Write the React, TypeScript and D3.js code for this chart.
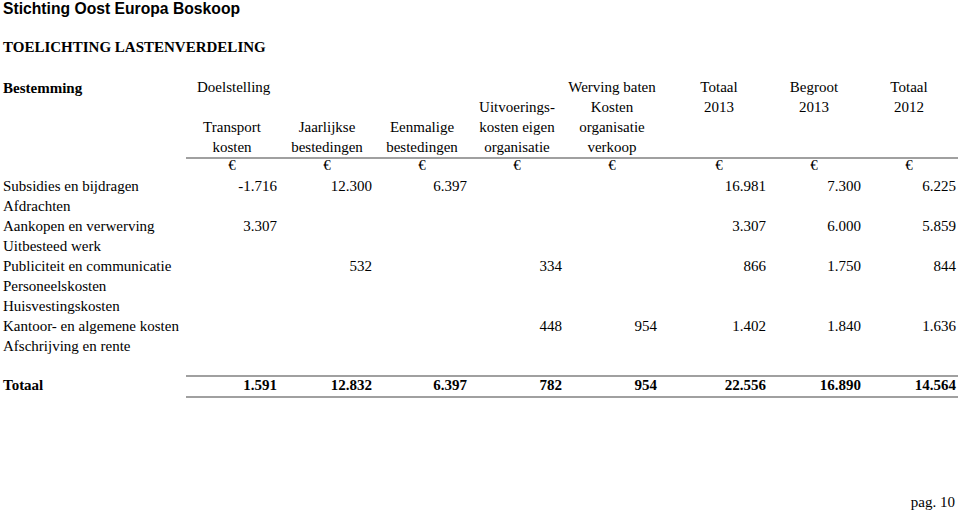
import React from "react";
import * as d3 from "d3";

const title = "Stichting Oost Europa Boskoop";
const subtitle = "TOELICHTING LASTENVERDELING";
const rowHeader = "Bestemming";
const groupHeader = "Doelstelling";
const pageLabel = "pag. 10";

const categories = [
  "Subsidies en bijdragen",
  "Afdrachten",
  "Aankopen en verwerving",
  "Uitbesteed werk",
  "Publiciteit en communicatie",
  "Personeelskosten",
  "Huisvestingskosten",
  "Kantoor- en algemene kosten",
  "Afschrijving en rente",
];

const columnKeys = ["transport", "jaarlijks", "eenmalig", "uitvoering", "werving", "tot2013", "begr2013", "tot2012"];

const columnHeaders: string[][] = [
  ["Transport", "kosten"],
  ["Jaarlijkse", "bestedingen"],
  ["Eenmalige", "bestedingen"],
  ["Uitvoerings-", "kosten eigen", "organisatie"],
  ["Werving baten", "Kosten", "organisatie", "verkoop"],
  ["Totaal", "2013"],
  ["Begroot", "2013"],
  ["Totaal", "2012"],
];
const headerTopAligned = [false, false, false, false, true, true, true, true];

type V = number | null;
const transportKosten: V[] = [-1716, null, 3307, null, null, null, null, null, null];
const jaarlijkseBestedingen: V[] = [12300, null, null, null, 532, null, null, null, null];
const eenmaligeBestedingen: V[] = [6397, null, null, null, null, null, null, null, null];
const uitvoeringskosten: V[] = [null, null, null, null, 334, null, null, 448, null];
const wervingKosten: V[] = [null, null, null, null, null, null, null, 954, null];
const totaal2013: V[] = [16981, null, 3307, null, 866, null, null, 1402, null];
const begroot2013: V[] = [7300, null, 6000, null, 1750, null, null, 1840, null];
const totaal2012: V[] = [6225, null, 5859, null, 844, null, null, 1636, null];

const columnValues = [
  transportKosten,
  jaarlijkseBestedingen,
  eenmaligeBestedingen,
  uitvoeringskosten,
  wervingKosten,
  totaal2013,
  begroot2013,
  totaal2012,
];

const totalLabel = "Totaal";
const totals = [1591, 12832, 6397, 782, 954, 22556, 16890, 14564];

const W = 960;
const H = 512;
const serif = "'Liberation Serif', 'Times New Roman', serif";
const sans = "'Liberation Sans', Arial, sans-serif";

const nl = d3.formatLocale({
  decimal: ",",
  thousands: ".",
  grouping: [3],
  currency: ["€", ""],
  minus: "-",
} as any);
const fmt = nl.format(",d");

export default function App() {
  const xLeft = d3.scalePoint<string>().domain(columnKeys.slice(0, 5)).range([277, 657]);
  const xRight = d3.scalePoint<string>().domain(columnKeys.slice(5)).range([766, 956]);
  const inLeft = (k: string) => xLeft.domain().includes(k);
  const xRightEdge = (k: string) => (inLeft(k) ? (xLeft(k) as number) : (xRight(k) as number));
  const xCenter = (k: string) => xRightEdge(k) - (inLeft(k) ? 45 : 47);

  const y = d3.scalePoint<string>().domain(categories).range([191, 351]);
  const headerLine = d3.scaleLinear().domain([0, 3]).range([92, 152]);

  const lineX0 = 186;
  const lineX1 = 958;
  const lineColor = "#a0a0a0";

  return (
    <div style={{ position: "absolute", left: 0, top: 0 }}>
      <svg width={W} height={H} style={{ display: "block", background: "#fff" }}>
        <text x={3} y={14} fontFamily={sans} fontWeight="bold" fontSize={15.7} fill="#000">
          {title}
        </text>
        <text x={3} y={52} fontFamily={serif} fontWeight="bold" fontSize={15} fill="#000">
          {subtitle}
        </text>
        <text x={3} y={93} fontFamily={serif} fontWeight="bold" fontSize={15} fill="#000">
          {rowHeader}
        </text>
        <text x={197} y={92} fontFamily={serif} fontSize={15} fill="#000">
          {groupHeader}
        </text>

        {columnKeys.map((k, i) => {
          const lines = columnHeaders[i];
          const start = headerTopAligned[i] ? 0 : 4 - lines.length;
          return (
            <text key={k} fontFamily={serif} fontSize={15} textAnchor="middle" fill="#000">
              {lines.map((l, j) => (
                <tspan key={j} x={xCenter(k)} y={headerLine(start + j)}>
                  {l}
                </tspan>
              ))}
            </text>
          );
        })}

        <line x1={lineX0} x2={lineX1} y1={158} y2={158} stroke={lineColor} strokeWidth={1.8} />

        {columnKeys.map((k) => (
          <text key={k} x={xCenter(k)} y={170} fontFamily={serif} fontSize={15} textAnchor="middle" fill="#000">
            €
          </text>
        ))}

        {categories.map((c, r) => (
          <g key={c}>
            <text x={3} y={y(c)} fontFamily={serif} fontSize={15} fill="#000">
              {c}
            </text>
            {columnKeys.map((k, i) => {
              const v = columnValues[i][r];
              if (v === null) return null;
              return (
                <text key={k} x={xRightEdge(k)} y={y(c)} fontFamily={serif} fontSize={15} textAnchor="end" fill="#000">
                  {fmt(v)}
                </text>
              );
            })}
          </g>
        ))}

        <line x1={lineX0} x2={lineX1} y1={376} y2={376} stroke={lineColor} strokeWidth={2.2} />
        <text x={3} y={390} fontFamily={serif} fontWeight="bold" fontSize={15} fill="#000">
          {totalLabel}
        </text>
        {columnKeys.map((k, i) => (
          <text key={k} x={xRightEdge(k)} y={390} fontFamily={serif} fontWeight="bold" fontSize={15} textAnchor="end" fill="#000">
            {fmt(totals[i])}
          </text>
        ))}
        <line x1={lineX0} x2={lineX1} y1={397} y2={397} stroke={lineColor} strokeWidth={2.2} />

        <text x={955} y={507} fontFamily={serif} fontSize={15} textAnchor="end" fill="#000">
          {pageLabel}
        </text>
      </svg>
    </div>
  );
}
